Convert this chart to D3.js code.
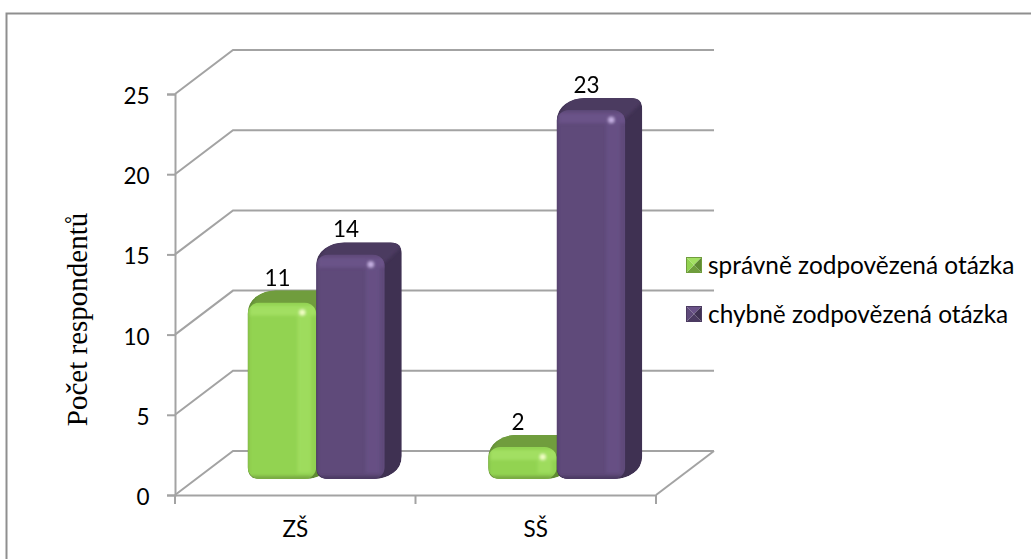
<!DOCTYPE html>
<html lang="cs">
<head>
<meta charset="utf-8">
<style>
html,body{margin:0;padding:0;background:#fff}
svg{display:block}
text{fill:#000}
</style>
<script src="https://cdn.jsdelivr.net/npm/d3@7/dist/d3.min.js"></script>
</head>
<body>
<svg id="chart" width="1031" height="559"></svg>
<script>
// Survey answers per school level
const categories = ["ZŠ", "SŠ"];
const seriesNames = ["správně zodpovězená otázka", "chybně zodpovězená otázka"];
const correctAnswers = [11, 2];
const wrongAnswers = [14, 23];
const valueTicks = [0, 5, 10, 15, 20, 25];
const yAxisTitle = "Počet respondentů";

const seriesValues = [correctAnswers, wrongAnswers];
const palette = [
  {front:"#92d351", top:"#6f9d3c", side:"#5f8a33", band:"#a2df62", edge:"#78a843", glow:"#f4ffc8"},
  {front:"#5f4a7a", top:"#4b3a61", side:"#3f3152", band:"#6a5288", edge:"#4b3a62", glow:"#c9b4e6"}
];
const labelFont = "Lato, sans-serif";
const labelSize = 22.5;

const svg = d3.select("#chart");
const defs = svg.append("defs");
defs.append("filter").attr("id","soft").attr("x","-30%").attr("y","-30%").attr("width","160%").attr("height","160%")
  .append("feGaussianBlur").attr("stdDeviation",1.8);

// Oblique projection of the plot box
const wall = {dx: 58, dy: 44};
const y = d3.scaleLinear().domain([0, 25]).range([495, 94]);
const x = d3.scaleBand().domain(categories).range([175, 656]);
const seriesBand = d3.scaleBand().domain(d3.range(seriesNames.length))
  .range([0, x.bandwidth()]).paddingInner(0).paddingOuter(0.755);

// Bars stand part of the way into the box
const barShift = {dx: 21, dy: 16};
const barDepth = {dx: 17, dy: 12};
const gridColor = "#a3a3a3";

// Frame lines along the top and left of the picture
svg.append("path").attr("d","M6.5,559V13.5H1031")
  .attr("fill","none").attr("stroke","#8f8f8f").attr("stroke-width",2);

// Gridlines: side wall diagonal and back wall line for each tick
const grid = svg.append("g").attr("fill","none").attr("stroke",gridColor).attr("stroke-width",2);
grid.selectAll("path.gridline").data(valueTicks).join("path").attr("class","gridline")
  .attr("d", d => {
    const p = d3.path();
    p.moveTo(x.range()[0], y(d));
    p.lineTo(x.range()[0] + wall.dx, y(d) - wall.dy);
    p.lineTo(x.range()[1] + wall.dx, y(d) - wall.dy);
    return p.toString();
  });

// Right edge of the floor
grid.append("line")
  .attr("x1", x.range()[1]).attr("y1", y(0))
  .attr("x2", x.range()[1] + wall.dx).attr("y2", y(0) - wall.dy);

// Value axis and category axis
const yAxis = d3.axisLeft(y).tickValues(valueTicks).tickSize(8).tickPadding(17.5);
const gy = svg.append("g").attr("transform",`translate(${x.range()[0]},0)`).call(yAxis);
gy.selectAll("text").attr("font-family",labelFont).attr("font-size",labelSize).attr("fill","#000").attr("dy","0.42em");

const xAxis = d3.axisBottom(x).tickSize(0).tickPadding(26);
const gx = svg.append("g").attr("transform",`translate(0,${y(0)})`).call(xAxis);
gx.selectAll("text").attr("font-family",labelFont).attr("font-size",labelSize).attr("fill","#000");
gx.selectAll(".tick line").remove();
const edges = [x.range()[0], x.range()[0] + x.step(), x.range()[1]];
gx.selectAll("line.edge").data(edges).join("line").attr("class","edge")
  .attr("x1",d=>d).attr("x2",d=>d).attr("y1",0).attr("y2",9)
  .attr("stroke",gridColor).attr("stroke-width",2);
svg.selectAll(".domain").attr("stroke",gridColor).attr("stroke-width",2);
svg.selectAll(".tick line").attr("stroke",gridColor).attr("stroke-width",2);

// Rounds every corner of a closed polygon
function roundedPolygon(points, r) {
  const n = points.length, p = d3.path();
  points.forEach((c, i) => {
    const a = points[(i + n - 1) % n], b = points[(i + 1) % n];
    const la = Math.hypot(a[0]-c[0], a[1]-c[1]), lb = Math.hypot(b[0]-c[0], b[1]-c[1]);
    const ra = Math.min(r, la / 2), rb = Math.min(r, lb / 2);
    const s = [c[0] + (a[0]-c[0]) * ra / la, c[1] + (a[1]-c[1]) * ra / la];
    const e = [c[0] + (b[0]-c[0]) * rb / lb, c[1] + (b[1]-c[1]) * rb / lb];
    if (i === 0) p.moveTo(s[0], s[1]); else p.lineTo(s[0], s[1]);
    p.quadraticCurveTo(c[0], c[1], e[0], e[1]);
  });
  p.closePath();
  return p.toString();
}

// One bevelled bar per category and series
categories.forEach((cat, ci) => {
  seriesNames.forEach((name, si) => {
    const value = seriesValues[si][ci];
    const c = palette[si];
    const x0 = x(cat) + seriesBand(si) + barShift.dx;
    const x1 = x0 + seriesBand.bandwidth();
    const yb = y(0) - barShift.dy;
    const yt = y(value) - barShift.dy;
    const w = x1 - x0, h = yb - yt;
    const r = Math.min(12, h / 2.4);
    const g = svg.append("g").attr("class", "bar");

    const outline = [[x0,yb],[x0,yt],[x0+barDepth.dx,yt-barDepth.dy],[x1+barDepth.dx,yt-barDepth.dy],[x1+barDepth.dx,yb-barDepth.dy],[x1,yb]];
    const outlinePath = roundedPolygon(outline, 11);
    const shellId = `shell-${ci}-${si}`;
    defs.append("clipPath").attr("id", shellId).append("path").attr("d", outlinePath);
    const shell = g.append("g").attr("clip-path",`url(#${shellId})`);
    shell.append("path").attr("d", outlinePath).attr("fill", c.side);
    shell.append("path").attr("filter","url(#soft)")
      .attr("d", "M" + [[x0-2,yt+10],[x0+barDepth.dx-2,yt-barDepth.dy-3],[x1+barDepth.dx+3,yt-barDepth.dy-3],[x1+barDepth.dx-3,yt-barDepth.dy+7],[x1,yt+8]].join("L") + "Z")
      .attr("fill", c.top);

    const clipId = `front-${ci}-${si}`;
    defs.append("clipPath").attr("id", clipId).append("rect")
      .attr("x",x0).attr("y",yt).attr("width",w).attr("height",h).attr("rx",r).attr("ry",r);
    const f = g.append("g").attr("clip-path",`url(#${clipId})`);
    f.append("rect").attr("x",x0).attr("y",yt).attr("width",w).attr("height",h).attr("fill",c.front);
    const soft = f.append("g").attr("filter","url(#soft)");
    // shaded rim along the bottom and left
    soft.append("rect").attr("x",x0-2).attr("y",yb-3).attr("width",w+4).attr("height",5).attr("fill",c.edge);
    soft.append("rect").attr("x",x0-2).attr("y",yt).attr("width",3).attr("height",h).attr("fill",c.edge).attr("opacity",0.7);
    // lighter bevel along the top and near the right edge
    soft.append("rect").attr("x",x0+2).attr("y",yt+Math.min(3,h*0.1)).attr("width",w-2).attr("height",Math.min(10,h*0.4)).attr("fill",c.band);
    soft.append("rect").attr("x",x1-19).attr("y",yt+6).attr("width",14).attr("height",Math.max(h-12,4)).attr("fill",c.band).attr("opacity",0.75);
    // specular spot on the top right corner
    soft.append("circle").attr("cx",x1-14).attr("cy",yt+Math.min(10,h*0.38)).attr("r",3).attr("fill",c.glow);
  });
});

// Data labels above the back edge of each bar
categories.forEach((cat, ci) => {
  seriesNames.forEach((name, si) => {
    const value = seriesValues[si][ci];
    svg.append("text")
      .attr("x", x(cat) + seriesBand(si) + barShift.dx + seriesBand.bandwidth() / 2 - 4.5)
      .attr("y", y(value) - barShift.dy - barDepth.dy - 5)
      .attr("text-anchor","middle")
      .attr("font-family",labelFont).attr("font-size",labelSize)
      .text(value);
  });
});

// Rotated value axis title
svg.append("text")
  .attr("transform","translate(87,319.5) rotate(-90)")
  .attr("text-anchor","middle")
  .attr("font-family","'Liberation Serif', serif").attr("font-size",29)
  .text(yAxisTitle);

// Legend with small pyramid swatches, lit from above
const legendY = d3.scalePoint().domain(seriesNames).range([265, 314]);
const legend = svg.selectAll("g.legend").data(seriesNames).join("g").attr("class","legend")
  .attr("transform", d => `translate(686,${legendY(d)})`);
legend.each(function(d, i) {
  const g = d3.select(this), c = palette[i], s = 8;
  const faces = [
    [[[0,-s],[16,-s],[8,0]], c.band],
    [[[0,s],[16,s],[8,0]], c.top],
    [[[0,-s],[0,s],[8,0]], c.front],
    [[[16,-s],[16,s],[8,0]], c.side]
  ];
  g.selectAll("path").data(faces).join("path")
    .attr("d", f => "M" + f[0].join("L") + "Z").attr("fill", f => f[1]);
  g.append("rect").attr("x",0.5).attr("y",-s+0.5).attr("width",15).attr("height",2*s-1)
    .attr("fill","none").attr("stroke",c.top).attr("stroke-width",1);
  g.append("text").attr("x",22).attr("y",0).attr("dy","0.35em")
    .attr("font-family",labelFont).attr("font-size",24.4).text(d);
});
</script>
</body>
</html>
